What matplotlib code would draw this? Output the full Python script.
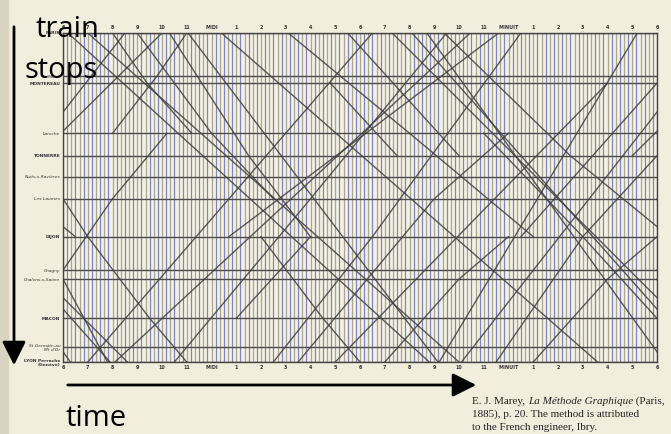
import matplotlib
matplotlib.use("Agg")
import matplotlib.pyplot as plt
import numpy as np

# stations and their distance from Paris (km)
stations = ["PARIS", "Moret", "MONTEREAU", "Laroche", "TONNERRE", "Nuits-s-Ravières",
            "Les Laumes", "DIJON", "Chagny", "Chalons-s-Saône", "MACON",
            "St Germain-au\nMt d'Or", "LYON Perrache\n(Genève)"]
station_km = [0, 67, 78, 156, 191, 224, 258, 317, 369, 383, 444, 489, 512]
major = ["PARIS", "MONTEREAU", "TONNERRE", "DIJON", "MACON", "LYON Perrache\n(Genève)"]

hours = list(range(6, 31))
hour_labels = ["6", "7", "8", "9", "10", "11", "MIDI", "1", "2", "3", "4", "5", "6",
               "7", "8", "9", "10", "11", "MINUIT", "1", "2", "3", "4", "5", "6"]

# trains: (hour, km) points; hours past 30 wrap round to the next morning
southbound = [
    [(6.2, 0), (20.8, 512)],
    [(7.0, 0), (22.0, 512)],
    [(8.0, 0), (9.4, 78), (11.2, 156)],
    [(9.0, 0), (12.0, 156), (14.5, 258)],
    [(10.3, 0), (13.5, 191), (16.0, 317)],
    [(11.05, 0), (21.15, 512)],
    [(12.4, 0), (27.6, 512)],
    [(15.1, 0), (20.0, 156), (25.0, 317)],
    [(17.5, 0), (22.0, 191)],
    [(19.3, 0), (32.6, 512)],
    [(20.1, 0), (31.9, 512)],
    [(20.7, 0), (30.3, 512)],
    [(21.4, 0), (26.5, 191), (30.5, 317)],
    [(6.0, 258), (7.0, 317), (9.5, 444), (11.0, 512)],
    [(6.0, 383), (7.8, 512)],
    [(14.0, 317), (16.5, 444), (18.0, 512)],
    [(16.8, 78), (19.5, 191)],
    [(23.0, 156), (27.0, 317), (30.0, 444)],
]
northbound = [
    [(22.1, 512), (32.5, 0)],
    [(7.0, 512), (18.5, 0)],
    [(21.2, 512), (29.2, 0)],
    [(12.7, 317), (23.6, 0)],
    [(8.1, 512), (22.45, 0)],
    [(10.5, 512), (16.0, 258), (21.5, 0)],
    [(6.0, 369), (8.0, 258), (10.2, 156)],
    [(14.5, 512), (18.5, 317), (24.5, 0)],
    [(15.5, 512), (21.0, 258), (24.0, 156)],
    [(17.0, 512), (28.0, 78)],
    [(19.0, 512), (22.0, 383), (24.0, 317)],
    [(23.5, 512), (27.0, 317), (30.0, 191)],
    [(25.0, 512), (28.0, 383), (30.0, 317)],
    [(24.5, 317), (30.0, 78)],
    [(5.0, 191), (10.0, 0)],
    [(8.0, 156), (9.8, 67), (11.0, 0)],
    [(13.0, 444), (16.0, 317)],
]

page = "#f2eedd"
fig = plt.figure(figsize=(6.71, 4.34), dpi=100, facecolor=page)
W, H = 671, 434
ax = fig.add_axes([63 / W, 1 - 362 / H, (657 - 63) / W, (362 - 33) / H])
ax.set_facecolor("#f4f1e2")

# ten-minute rulings, alternately blue and grey
for i, t in enumerate(np.arange(6, 30.01, 1 / 6)):
    col = "#7d86c4" if i % 2 else "#a9a78f"
    ax.axvline(t, color=col, lw=0.9, zorder=1)
for k in station_km:
    ax.axhline(k, color="#4d4d4d", lw=1.0, zorder=2)

for tr in southbound + northbound:
    h = np.array([p[0] for p in tr])
    k = np.array([p[1] for p in tr])
    for off in (-24, 0, 24):
        ax.plot(h + off, k, color="#3f3f3f", lw=1.0, alpha=0.85, zorder=3)

ax.set_xlim(6, 30)
ax.set_ylim(512, 0)
ax.set_xticks(hours)
ax.set_xticklabels(hour_labels, fontsize=3.5, fontweight="bold", color="#333")
ax.tick_params(axis="x", top=True, labeltop=True, length=0, pad=2)
ax.set_yticks(station_km)
ax.set_yticklabels(stations, fontsize=3.2, color="#333")
for lab in ax.get_yticklabels():
    if lab.get_text() in major:
        lab.set_fontweight("bold")
    else:
        lab.set_fontstyle("italic")
ax.tick_params(axis="y", length=0, pad=2)
for s in ax.spines.values():
    s.set_color("#444")
    s.set_linewidth(1.0)

# annotations on the page
fig.text(35 / W, 1 - 37 / H, "train", fontsize=21, family="Open Sans", color="black")
fig.text(25 / W, 1 - 78 / H, "stops", fontsize=21, family="Open Sans", color="black")
fig.text(65 / W, 1 - 426 / H, "time", fontsize=21, family="Open Sans", color="black")
fig.patches.append(plt.Rectangle((0, 0), 8 / W, 1, transform=fig.transFigure,
                                 color="#d9d4c2", zorder=0))
fig.add_artist(matplotlib.patches.FancyArrowPatch(
    (14 / W, 1 - 24 / H), (14 / W, 1 - 368 / H), transform=fig.transFigure,
    arrowstyle="-|>,head_length=1.2,head_width=0.6", mutation_scale=12,
    color="black", lw=2))
fig.add_artist(matplotlib.patches.FancyArrowPatch(
    (65 / W, 1 - 385 / H), (479 / W, 1 - 385 / H), transform=fig.transFigure,
    arrowstyle="-|>,head_length=1.2,head_width=0.6", mutation_scale=12,
    color="black", lw=2))

# caption, set in pieces so the title can be italic
fig.canvas.draw()
r = fig.canvas.get_renderer()
cap = dict(fontsize=8, family="Liberation Serif", color="#222")
x0 = 472 / W
t1 = fig.text(x0, 1 - 404 / H, "E. J. Marey, ", **cap)
e1 = t1.get_window_extent(r)
t2 = fig.text(e1.x1 / W, 1 - 404 / H, "La Méthode Graphique", style="italic", **cap)
e2 = t2.get_window_extent(r)
fig.text(e2.x1 / W, 1 - 404 / H, " (Paris,", **cap)
fig.text(x0, 1 - 417 / H, "1885), p. 20. The method is attributed", **cap)
fig.text(x0, 1 - 430 / H, "to the French engineer, Ibry.", **cap)

fig.savefig("out.png", dpi=100, facecolor=page)
